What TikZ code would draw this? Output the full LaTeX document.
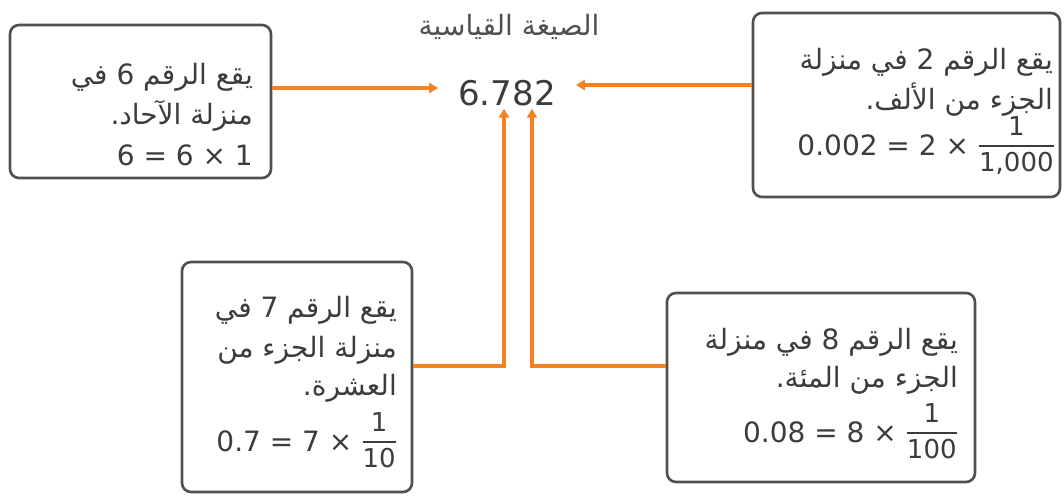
\documentclass[tikz,border=0pt]{standalone}
\usepackage{fontspec}
\usepackage{amsmath}
\setmainfont{DejaVu Sans}
\newfontfamily\arabicfont[Script=Arabic]{DejaVu Sans}
\TeXXeTstate=1
\usetikzlibrary{arrows.meta}
\definecolor{org}{HTML}{F58220}
\definecolor{bord}{HTML}{505050}
\definecolor{txt}{HTML}{3C3C3C}
\newcommand{\artxt}[1]{{\arabicfont\beginR #1\endR}}
\newcommand{\myfr}[2]{\raisebox{3pt}{$\genfrac{}{}{1.8pt}{0}{\text{\fontsize{26}{26}\selectfont #1}}{\text{\fontsize{26}{26}\selectfont #2}}$}}
\tikzset{
  box/.style={draw=bord, line width=2.6pt, rounded corners=9pt, inner sep=0pt},
  arl/.style={inner sep=0pt, anchor=east, text=txt, font=\fontsize{28}{32}\selectfont},
  mathl/.style={inner sep=0pt, anchor=base east, text=txt, font=\fontsize{28}{32}\selectfont},
  conn/.style={draw=org, line width=3.5pt},
  arr/.style={conn, -{Triangle[length=9pt,width=10pt]}}
}
\begin{document}
\begin{tikzpicture}[x=1pt,y=-1pt]
\useasboundingbox (0,0) rectangle (1064,495);
% boxes
\node[box, minimum width=261pt, minimum height=153pt] (b1) at (140.5,101.5) {};
\node[box, minimum width=307pt, minimum height=184pt] (b2) at (906.5,105) {};
\node[box, minimum width=230pt, minimum height=230pt] (b3) at (297,377) {};
\node[box, minimum width=308pt, minimum height=189pt] (b4) at (821,387.5) {};
% title and number
\node[text=txt!90, inner sep=0pt, font=\fontsize{28}{32}\selectfont] (title) at (509,27) {\artxt{الصيغة القياسية}};
\node[text=txt, inner xsep=20pt, inner ysep=2.6pt, font=\fontsize{34}{40}\selectfont] (num) at (507,93) {6.782};
% box 1 text
\node[arl] (t11) at (253,77) {\artxt{يقع الرقم 6 في}};
\node[arl] (t12) at (253,116) {\artxt{منزلة الآحاد.}};
\node[mathl] (t13) at (253,165) {6 = 6 × 1};
% box 2 text
\node[arl] (t21) at (1053,62) {\artxt{يقع الرقم 2 في منزلة}};
\node[arl] (t22) at (1053,100) {\artxt{الجزء من الألف.}};
\node[mathl] (t23) at (1055,155) {0.002 = 2 × \myfr{1}{1,000}};
% box 3 text
\node[arl] (t31) at (397,310) {\artxt{يقع الرقم 7 في}};
\node[arl] (t32) at (397,350) {\artxt{منزلة الجزء من}};
\node[arl] (t33) at (397,388) {\artxt{العشرة.}};
\node[mathl] (t34) at (397,451) {0.7 = 7 × \myfr{1}{10}};
% box 4 text
\node[arl] (t41) at (958,342) {\artxt{يقع الرقم 8 في منزلة}};
\node[arl] (t42) at (958,380) {\artxt{الجزء من المئة.}};
\node[mathl] (t43) at (958,442) {0.08 = 8 × \myfr{1}{100}};
% connectors
\coordinate (hy) at (0,366);
\coordinate (pl) at ([yshift=5pt]num.west);
\coordinate (pr) at ([yshift=8pt]num.east);
\coordinate (p7) at ([xshift=-3pt]num.south);
\coordinate (p8) at ([xshift=25pt]num.south);
\draw[arr] (b1.east |- pl) -- (pl);
\draw[arr] (b2.west |- pr) -- (pr);
\draw[arr] (b3.east |- hy) -| (p7);
\draw[arr] (b4.west |- hy) -| (p8);
\end{tikzpicture}
\end{document}
